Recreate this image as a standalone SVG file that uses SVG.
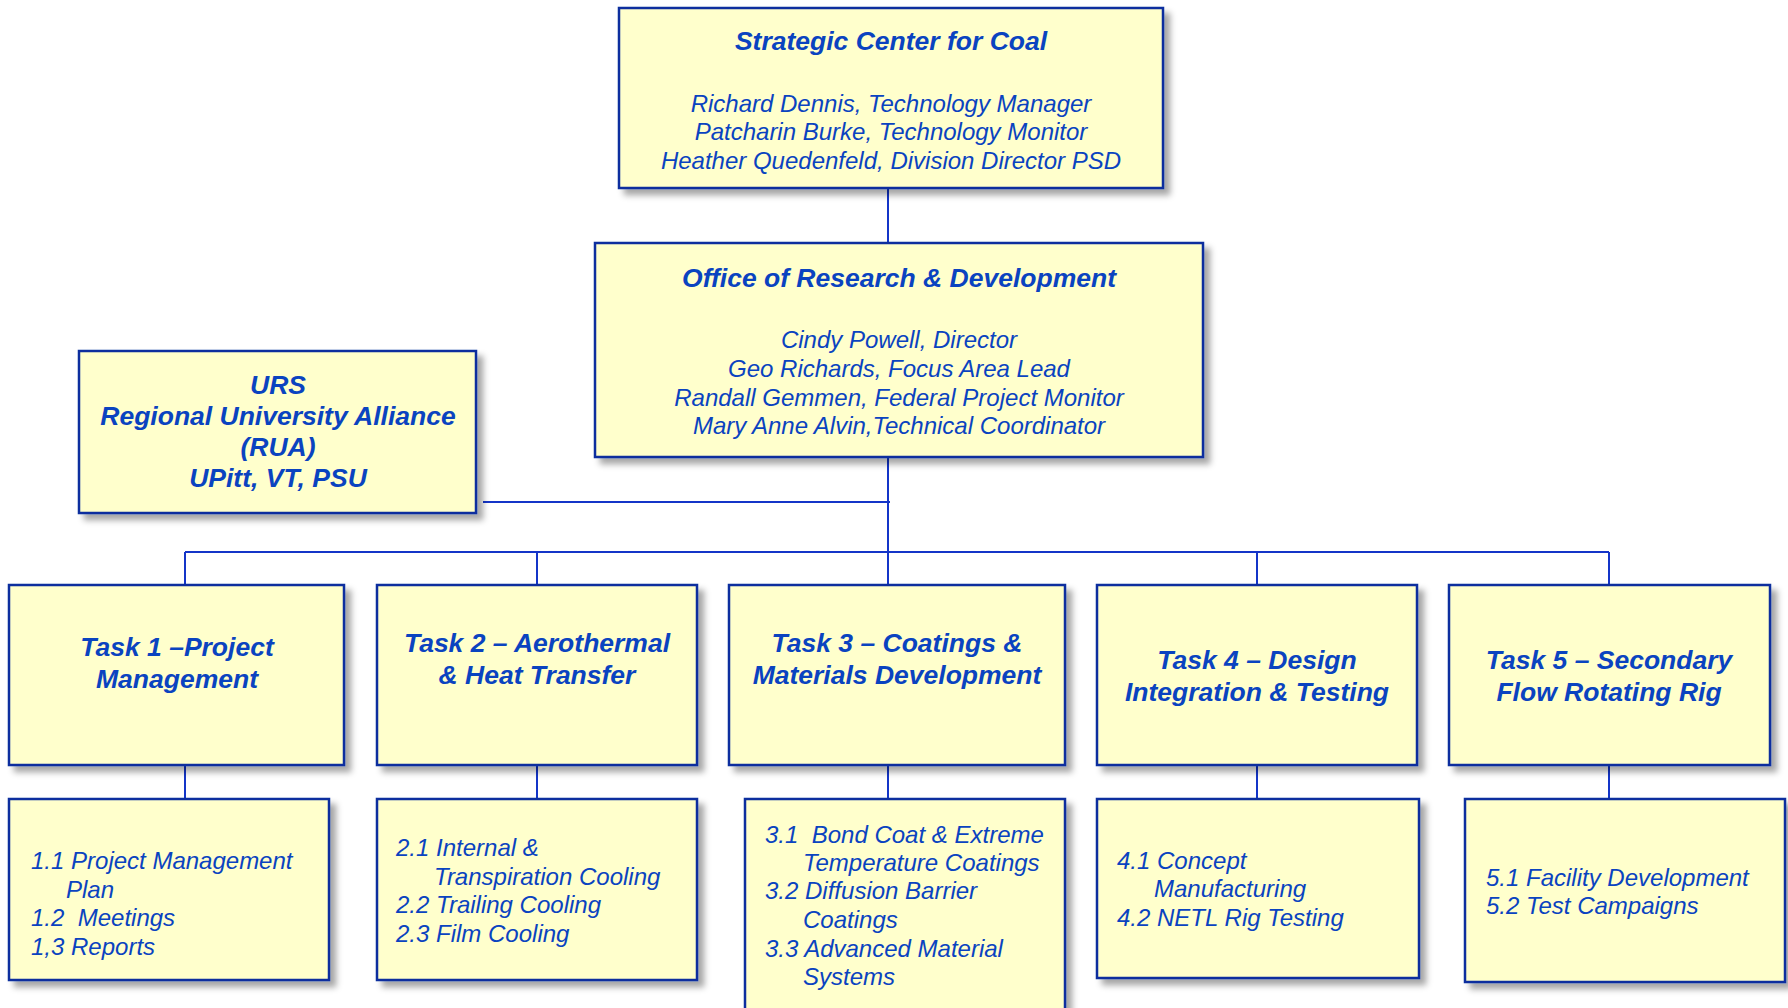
<svg xmlns="http://www.w3.org/2000/svg" width="1788" height="1008" viewBox="0 0 1788 1008">
<defs>
<filter id="sh" x="-5%" y="-5%" width="115%" height="120%">
<feDropShadow dx="6" dy="6" stdDeviation="3" flood-color="#000" flood-opacity="0.35"/>
</filter>
<style>
.box{fill:#FFFFCC;stroke:#0a2d9e;stroke-width:2.5;filter:url(#sh)}
.t{font-family:"Liberation Sans",Arial,sans-serif;font-style:italic;fill:#0a43c0;font-size:24px}
.b{font-weight:bold;font-size:26.5px}
.c{text-anchor:middle}
.ln{stroke:#1435c8;stroke-width:2;fill:none}
</style>
</defs>
<rect width="1788" height="1008" fill="#fff"/>
<g id="connectors">
<path class="ln" d="M888 188V243M888 457V552M483 502H890M185 552H1609M185 552V585M537 552V585M888 552V585M1257 552V585M1609 552V585M185 765V799M537 765V799M888 765V799M1257 765V799M1609 765V799"/>
</g>
<g id="scc">
<rect class="box" x="619" y="8" width="544" height="180"/>
<text class="t b c" x="891" y="50">Strategic Center for Coal</text>
<text class="t c" x="891" y="112">Richard Dennis, Technology Manager</text>
<text class="t c" x="891" y="140">Patcharin Burke, Technology Monitor</text>
<text class="t c" x="891" y="169">Heather Quedenfeld, Division Director PSD</text>
</g>
<g id="ord">
<rect class="box" x="595" y="243" width="608" height="214"/>
<text class="t b c" x="899" y="287">Office of Research &amp; Development</text>
<text class="t c" x="899" y="348">Cindy Powell, Director</text>
<text class="t c" x="899" y="377">Geo Richards, Focus Area Lead</text>
<text class="t c" x="899" y="406">Randall Gemmen, Federal Project Monitor</text>
<text class="t c" x="899" y="434">Mary Anne Alvin,Technical Coordinator</text>
</g>
<g id="urs">
<rect class="box" x="79" y="351" width="397" height="162"/>
<text class="t b c" x="278" y="394">URS</text>
<text class="t b c" x="278" y="425">Regional University Alliance</text>
<text class="t b c" x="278" y="456">(RUA)</text>
<text class="t b c" x="278" y="487">UPitt, VT, PSU</text>
</g>
<g id="task1">
<rect class="box" x="9" y="585" width="335" height="180"/>
<text class="t b c" x="177" y="656">Task 1 –Project</text>
<text class="t b c" x="177" y="688">Management</text>
</g>
<g id="task2">
<rect class="box" x="377" y="585" width="320" height="180"/>
<text class="t b c" x="537" y="652">Task 2 – Aerothermal</text>
<text class="t b c" x="537" y="684">&amp; Heat Transfer</text>
</g>
<g id="task3">
<rect class="box" x="729" y="585" width="336" height="180"/>
<text class="t b c" x="897" y="652">Task 3 – Coatings &amp;</text>
<text class="t b c" x="897" y="684">Materials Development</text>
</g>
<g id="task4">
<rect class="box" x="1097" y="585" width="320" height="180"/>
<text class="t b c" x="1257" y="669">Task 4 – Design</text>
<text class="t b c" x="1257" y="701">Integration &amp; Testing</text>
</g>
<g id="task5">
<rect class="box" x="1449" y="585" width="321" height="180"/>
<text class="t b c" x="1609" y="669">Task 5 – Secondary</text>
<text class="t b c" x="1609" y="701">Flow Rotating Rig</text>
</g>
<g id="sub1">
<rect class="box" x="9" y="799" width="320" height="181"/>
<text class="t" x="31" y="869">1.1 Project Management</text>
<text class="t" x="66" y="898">Plan</text>
<text class="t" x="31" y="926" xml:space="preserve">1.2  Meetings</text>
<text class="t" x="31" y="955">1,3 Reports</text>
</g>
<g id="sub2">
<rect class="box" x="377" y="799" width="320" height="181"/>
<text class="t" x="396" y="856">2.1 Internal &amp;</text>
<text class="t" x="434" y="885">Transpiration Cooling</text>
<text class="t" x="396" y="913">2.2 Trailing Cooling</text>
<text class="t" x="396" y="942">2.3 Film Cooling</text>
</g>
<g id="sub3">
<rect class="box" x="745" y="799" width="320" height="240"/>
<text class="t" x="765" y="843" xml:space="preserve">3.1  Bond Coat &amp; Extreme</text>
<text class="t" x="803" y="871">Temperature Coatings</text>
<text class="t" x="765" y="899">3.2 Diffusion Barrier</text>
<text class="t" x="803" y="928">Coatings</text>
<text class="t" x="765" y="957">3.3 Advanced Material</text>
<text class="t" x="803" y="985">Systems</text>
</g>
<g id="sub4">
<rect class="box" x="1097" y="799" width="322" height="179"/>
<text class="t" x="1117" y="869">4.1 Concept</text>
<text class="t" x="1154" y="897">Manufacturing</text>
<text class="t" x="1117" y="926">4.2 NETL Rig Testing</text>
</g>
<g id="sub5">
<rect class="box" x="1465" y="799" width="320" height="183"/>
<text class="t" x="1486" y="886">5.1 Facility Development</text>
<text class="t" x="1486" y="914">5.2 Test Campaigns</text>
</g>
</svg>
